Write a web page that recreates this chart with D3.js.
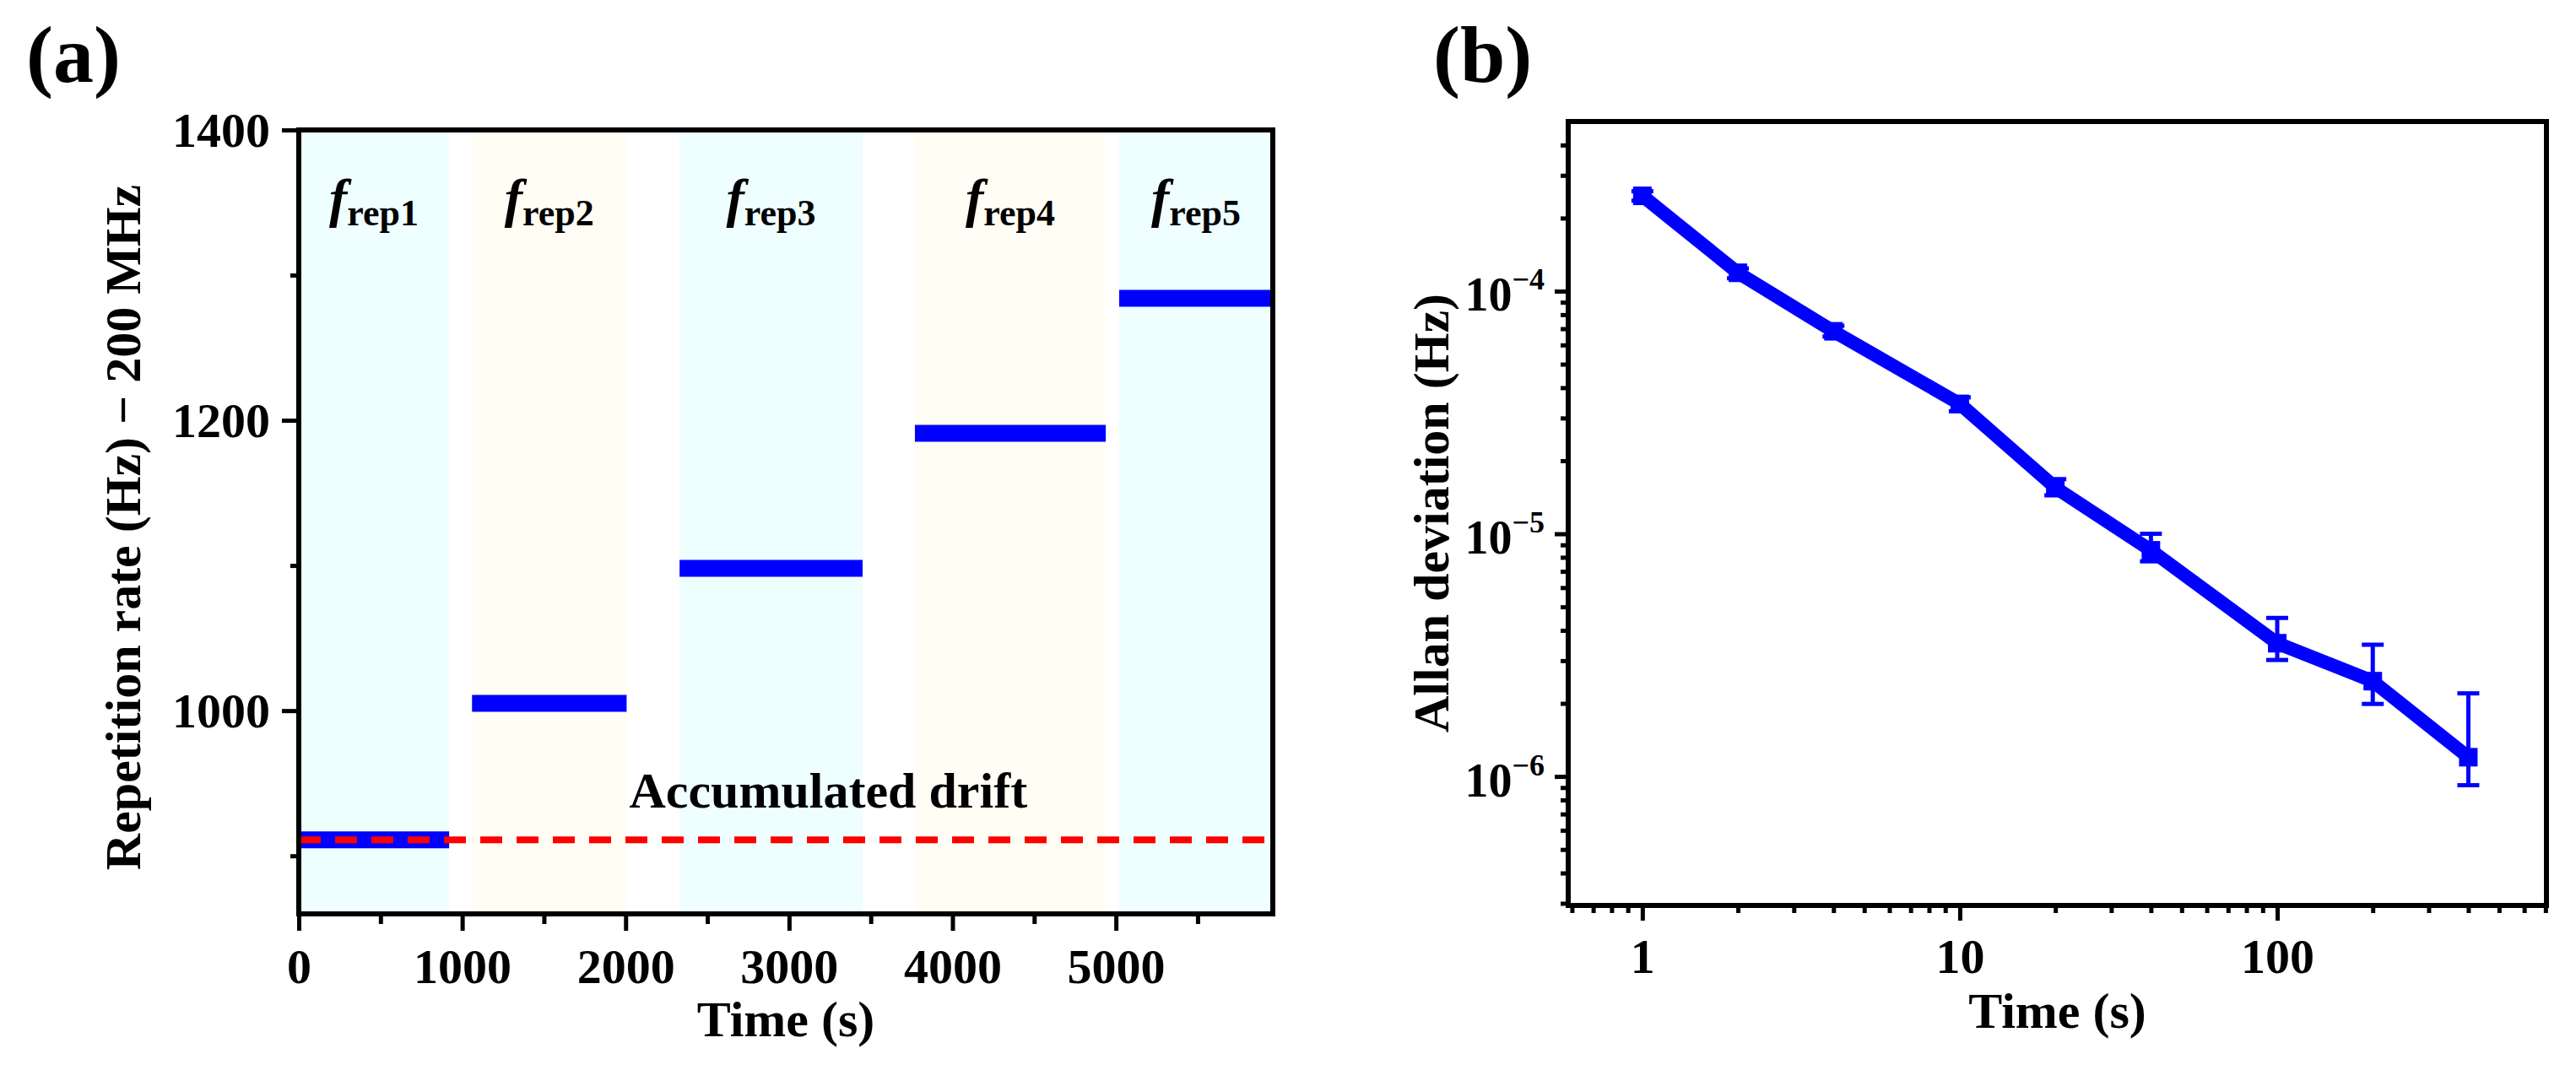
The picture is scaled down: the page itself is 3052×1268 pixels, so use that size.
<!DOCTYPE html>
<html>
<head>
<meta charset="utf-8">
<script src="https://cdn.jsdelivr.net/npm/d3@7"></script>
<style>
  body { margin: 0; background: #fff; }
  text { font-family: "Liberation Serif", "Times New Roman", serif; font-weight: bold; fill: #000; }
</style>
</head>
<body>
<svg id="chart" width="3052" height="1268"></svg>
<script>
// ---- panel (a) data : repetition rate steps ----
const segNames = ["rep1", "rep2", "rep3", "rep4", "rep5"];
const segStart = [0, 1060, 2330, 3770, 5020];
const segEnd   = [920, 2006, 3450, 4938, 5960];
const segRate  = [911, 1005, 1098, 1191, 1284];   // Hz above 200 MHz
const bandFill = ["#effeff", "#fffdf4", "#effeff", "#fffdf4", "#effeff"];
const driftLevel = 911;
const xTicksA = [0, 1000, 2000, 3000, 4000, 5000];
const yTicksA = [1000, 1200, 1400];

// ---- panel (b) data : Allan deviation ----
const tau   = [1, 2, 4, 10, 20, 40, 100, 200, 400];
const adev  = [2.47e-4, 1.19e-4, 6.83e-5, 3.43e-5, 1.55e-5, 8.55e-6, 3.54e-6, 2.47e-6, 1.2e-6];
const errHi = [2.58e-4, 1.24e-4, 7.2e-5, 3.65e-5, 1.68e-5, 1.0e-5, 4.5e-6, 3.49e-6, 2.2e-6];
const errLo = [2.36e-4, 1.13e-4, 6.5e-5, 3.2e-5, 1.44e-5, 7.7e-6, 3.02e-6, 1.99e-6, 9.2e-7];
const xTicksB = [1, 10, 100];
const yTicksB = [1e-6, 1e-5, 1e-4];

const svg = d3.select("#chart");

function styleAxis(g){
  g.select(".domain").remove();
  g.selectAll(".tick line").attr("stroke", "#000").attr("stroke-width", 5);
  g.selectAll("text").style("font-size", "58px").attr("fill", "#000");
}

// ================= panel (a) =================
const xA = d3.scaleLinear().domain([0, 5960]).range([354, 1508]);
const yA = d3.scaleLinear().domain([860, 1400]).range([1083, 154]);

const gA = svg.append("g");

// shaded bands
gA.selectAll("rect.band").data(segStart).join("rect")
  .attr("class", "band")
  .attr("x", (d, i) => xA(d))
  .attr("width", (d, i) => xA(segEnd[i]) - xA(d))
  .attr("y", yA(1400))
  .attr("height", yA(860) - yA(1400))
  .attr("fill", (d, i) => bandFill[i]);

// step bars
gA.selectAll("line.step").data(segRate).join("line")
  .attr("class", "step")
  .attr("x1", (d, i) => xA(segStart[i]))
  .attr("x2", (d, i) => xA(segEnd[i]))
  .attr("y1", d => yA(d)).attr("y2", d => yA(d))
  .attr("stroke", "#0000ff").attr("stroke-width", 20);

// accumulated drift reference
gA.append("line")
  .attr("x1", xA(0)).attr("x2", xA(5960))
  .attr("y1", yA(driftLevel)).attr("y2", yA(driftLevel))
  .attr("stroke", "#ff0000").attr("stroke-width", 8)
  .attr("stroke-dasharray", "26,17");

gA.append("text")
  .attr("x", xA(3240)).attr("y", yA(933))
  .attr("text-anchor", "middle").style("font-size", "60px")
  .text("Accumulated drift");

// f_rep labels
const lab = gA.selectAll("text.frep").data(segNames).join("text")
  .attr("class", "frep")
  .attr("x", (d, i) => xA((segStart[i] + segEnd[i]) / 2))
  .attr("y", 256)
  .attr("text-anchor", "middle");
lab.append("tspan").style("font-size", "64px").style("font-style", "italic").text("f");
lab.append("tspan").style("font-size", "44px").attr("dy", 11).text(d => d);

// axes
const xAxA = gA.append("g").attr("transform", "translate(0,1083)")
  .call(d3.axisBottom(xA).tickValues(xTicksA).tickSize(20).tickFormat(d3.format("d")));
styleAxis(xAxA);
xAxA.selectAll("text").attr("y", 82).attr("dy", null);
gA.append("g").attr("transform", "translate(0,1083)")
  .call(d3.axisBottom(xA).tickValues([500, 1500, 2500, 3500, 4500, 5500]).tickSize(12).tickFormat(""))
  .call(styleAxis);

const yAxA = gA.append("g").attr("transform", "translate(354,0)")
  .call(d3.axisLeft(yA).tickValues(yTicksA).tickSize(20).tickPadding(14).tickFormat(d3.format("d")));
styleAxis(yAxA);
yAxA.selectAll("text").attr("dy", "0.34em");
gA.append("g").attr("transform", "translate(354,0)")
  .call(d3.axisLeft(yA).tickValues([900, 1100, 1300]).tickSize(10).tickFormat(""))
  .call(styleAxis);

gA.append("rect")
  .attr("x", xA(0)).attr("y", yA(1400))
  .attr("width", xA(5960) - xA(0)).attr("height", yA(860) - yA(1400))
  .attr("fill", "none").attr("stroke", "#000").attr("stroke-width", 6);

gA.append("text").attr("x", (354 + 1508) / 2).attr("y", 1228)
  .attr("text-anchor", "middle").style("font-size", "60px").text("Time (s)");
gA.append("text")
  .attr("transform", "translate(166,625) rotate(-90)")
  .attr("text-anchor", "middle").style("font-size", "60px")
  .text("Repetition rate (Hz) \u2212 200 MHz");

svg.append("text").attr("x", 31).attr("y", 97).style("font-size", "96px").text("(a)");

// ================= panel (b) =================
const xB = d3.scaleLog().domain([0.584, 705]).range([1858, 3017]);
const yB = d3.scaleLog().domain([2.94e-7, 5e-4]).range([1073, 144]);

const gB = svg.append("g");

const minorX = [0.6, 0.7, 0.8, 0.9, 2, 3, 4, 5, 6, 7, 8, 9, 20, 30, 40, 50, 60, 70, 80, 90,
                200, 300, 400, 500, 600, 700];
const minorY = [3e-7, 4e-7, 5e-7, 6e-7, 7e-7, 8e-7, 9e-7, 2e-6, 3e-6, 4e-6, 5e-6, 6e-6, 7e-6, 8e-6, 9e-6,
                2e-5, 3e-5, 4e-5, 5e-5, 6e-5, 7e-5, 8e-5, 9e-5, 2e-4, 3e-4, 4e-4];

const xAxB = gB.append("g").attr("transform", "translate(0,1073)")
  .call(d3.axisBottom(xB).tickValues(xTicksB).tickSize(18).tickFormat(d3.format("d")));
styleAxis(xAxB);
xAxB.selectAll("text").attr("y", 80).attr("dy", null);
gB.append("g").attr("transform", "translate(0,1073)")
  .call(d3.axisBottom(xB).tickValues(minorX).tickSize(9).tickFormat(""))
  .call(styleAxis);

const yAxB = gB.append("g").attr("transform", "translate(1858,0)")
  .call(d3.axisLeft(yB).tickValues(yTicksB).tickSize(16).tickFormat(""));
styleAxis(yAxB);
yAxB.selectAll(".tick").append("text")
  .attr("x", -28).attr("y", 23).attr("text-anchor", "end")
  .each(function(d){
    const t = d3.select(this);
    t.append("tspan").style("font-size", "56px").text("10");
    t.append("tspan").style("font-size", "36px").attr("dy", -25)
      .text("\u2212" + Math.round(-Math.log10(d)));
  });
gB.append("g").attr("transform", "translate(1858,0)")
  .call(d3.axisLeft(yB).tickValues(minorY).tickSize(9).tickFormat(""))
  .call(styleAxis);

// connecting line
gB.append("path")
  .datum(tau)
  .attr("d", d3.line().x(d => xB(d)).y((d, i) => yB(adev[i])))
  .attr("fill", "none").attr("stroke", "#0000ff").attr("stroke-width", 16)
  .attr("stroke-linejoin", "round");

// error bars
const eb = gB.selectAll("g.err").data(tau).join("g").attr("class", "err")
  .attr("stroke", "#0000ff").attr("stroke-width", 5);
eb.append("line").attr("x1", d => xB(d)).attr("x2", d => xB(d))
  .attr("y1", (d, i) => yB(errHi[i])).attr("y2", (d, i) => yB(errLo[i]));
eb.append("line").attr("x1", d => xB(d) - 13).attr("x2", d => xB(d) + 13)
  .attr("y1", (d, i) => yB(errHi[i])).attr("y2", (d, i) => yB(errHi[i]));
eb.append("line").attr("x1", d => xB(d) - 13).attr("x2", d => xB(d) + 13)
  .attr("y1", (d, i) => yB(errLo[i])).attr("y2", (d, i) => yB(errLo[i]));

// square markers
gB.selectAll("rect.pt").data(tau).join("rect").attr("class", "pt")
  .attr("x", d => xB(d) - 11).attr("y", (d, i) => yB(adev[i]) - 11)
  .attr("width", 22).attr("height", 22).attr("fill", "#0000ff");

gB.append("rect")
  .attr("x", 1858).attr("y", 144).attr("width", 3017 - 1858).attr("height", 1073 - 144)
  .attr("fill", "none").attr("stroke", "#000").attr("stroke-width", 6);

gB.append("text").attr("x", (1858 + 3017) / 2).attr("y", 1218)
  .attr("text-anchor", "middle").style("font-size", "60px").text("Time (s)");
gB.append("text")
  .attr("transform", "translate(1716,608) rotate(-90)")
  .attr("text-anchor", "middle").style("font-size", "60px")
  .text("Allan deviation (Hz)");

svg.append("text").attr("x", 1698).attr("y", 97).style("font-size", "96px").text("(b)");
</script>
</body>
</html>
